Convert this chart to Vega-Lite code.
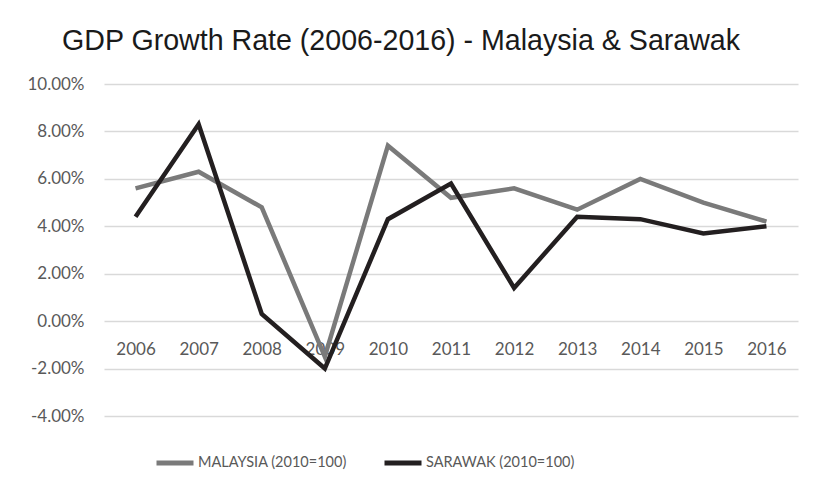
{
  "$schema": "https://vega.github.io/schema/vega-lite/v6.json",
  "width": 694,
  "height": 332,
  "autosize": {"type": "none"},
  "padding": {"left": 104, "top": 84, "right": 18, "bottom": 63},
  "background": "white",
  "title": {
    "text": "GDP Growth Rate (2006-2016) - Malaysia & Sarawak",
    "anchor": "start",
    "frame": "group",
    "dx": -42,
    "offset": -4,
    "baseline": "alphabetic",
    "font": "Liberation Sans",
    "fontSize": 28.6,
    "fontWeight": "normal",
    "color": "#1a1a1a"
  },
  "data": {
    "values": [
      {"year": "2006", "series": "MALAYSIA (2010=100)", "rate": 0.056},
      {"year": "2007", "series": "MALAYSIA (2010=100)", "rate": 0.063},
      {"year": "2008", "series": "MALAYSIA (2010=100)", "rate": 0.048},
      {"year": "2009", "series": "MALAYSIA (2010=100)", "rate": -0.015},
      {"year": "2010", "series": "MALAYSIA (2010=100)", "rate": 0.074},
      {"year": "2011", "series": "MALAYSIA (2010=100)", "rate": 0.052},
      {"year": "2012", "series": "MALAYSIA (2010=100)", "rate": 0.056},
      {"year": "2013", "series": "MALAYSIA (2010=100)", "rate": 0.047},
      {"year": "2014", "series": "MALAYSIA (2010=100)", "rate": 0.060},
      {"year": "2015", "series": "MALAYSIA (2010=100)", "rate": 0.050},
      {"year": "2016", "series": "MALAYSIA (2010=100)", "rate": 0.042},
      {"year": "2006", "series": "SARAWAK (2010=100)", "rate": 0.044},
      {"year": "2007", "series": "SARAWAK (2010=100)", "rate": 0.083},
      {"year": "2008", "series": "SARAWAK (2010=100)", "rate": 0.003},
      {"year": "2009", "series": "SARAWAK (2010=100)", "rate": -0.020},
      {"year": "2010", "series": "SARAWAK (2010=100)", "rate": 0.043},
      {"year": "2011", "series": "SARAWAK (2010=100)", "rate": 0.058},
      {"year": "2012", "series": "SARAWAK (2010=100)", "rate": 0.014},
      {"year": "2013", "series": "SARAWAK (2010=100)", "rate": 0.044},
      {"year": "2014", "series": "SARAWAK (2010=100)", "rate": 0.043},
      {"year": "2015", "series": "SARAWAK (2010=100)", "rate": 0.037},
      {"year": "2016", "series": "SARAWAK (2010=100)", "rate": 0.040}
    ]
  },
  "mark": {"type": "line", "strokeWidth": 4.5, "strokeJoin": "miter", "strokeCap": "butt"},
  "encoding": {
    "x": {
      "field": "year",
      "type": "ordinal",
      "scale": {"type": "point", "padding": 0.5},
      "axis": {
        "title": null,
        "offset": -95,
        "domain": false,
        "ticks": false,
        "tickSize": 0,
        "labelPadding": 28,
        "labelBaseline": "middle",
        "labelAngle": 0,
        "labelFont": "Lato",
        "labelFontSize": 17,
        "labelColor": "#595959",
        "grid": false
      }
    },
    "y": {
      "field": "rate",
      "type": "quantitative",
      "scale": {"domain": [-0.04, 0.10], "nice": false, "zero": false},
      "axis": {
        "title": null,
        "values": [-0.04, -0.02, 0, 0.02, 0.04, 0.06, 0.08, 0.10],
        "labelExpr": "replace(format(datum.value, '.2%'), '\u2212', '-')",
        "domain": false,
        "ticks": false,
        "tickSize": 0,
        "labelPadding": 20,
        "labelFont": "Lato",
        "labelFontSize": 17,
        "labelColor": "#595959",
        "grid": true,
        "gridColor": "#d9d9d9",
        "gridWidth": 1.5
      }
    },
    "color": {
      "field": "series",
      "type": "nominal",
      "scale": {"domain": ["MALAYSIA (2010=100)", "SARAWAK (2010=100)"], "range": ["#7a7a7a", "#231f20"]},
      "legend": {
        "title": null,
        "orient": "none",
        "direction": "horizontal",
        "legendX": 50,
        "legendY": 358,
        "symbolType": "stroke",
        "symbolSize": 1369,
        "symbolStrokeWidth": 5,
        "labelFont": "Lato",
        "labelFontSize": 14.5,
        "labelColor": "#595959",
        "labelLimit": 0,
        "labelOffset": 2,
        "columnPadding": 27
      }
    }
  },
  "config": {"view": {"stroke": null}}
}
